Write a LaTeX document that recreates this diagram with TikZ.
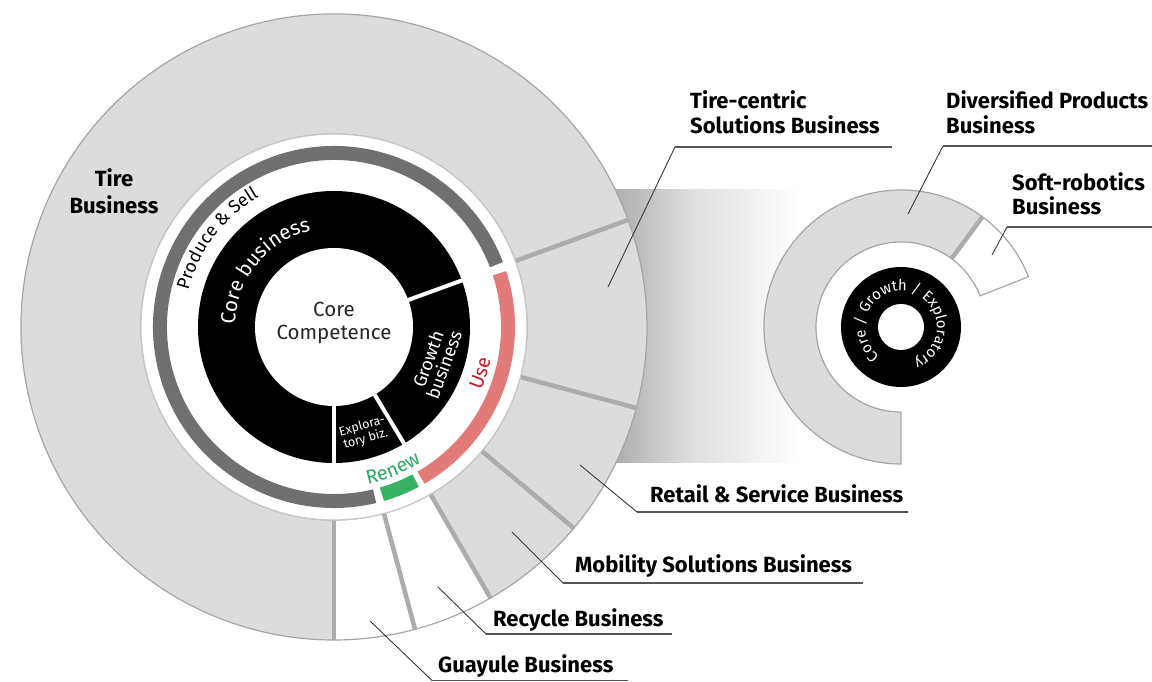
\documentclass[tikz,border=0pt]{standalone}
\usepackage{fontspec}
\setmainfont{Fira Sans}
\usetikzlibrary{decorations.text}
\definecolor{ringgray}{RGB}{220,220,220}
\definecolor{edgegray}{RGB}{165,165,165}
\definecolor{sepgray}{RGB}{172,172,172}
\definecolor{psgray}{RGB}{112,112,112}
\definecolor{usepink}{RGB}{226,122,122}
\definecolor{usered}{RGB}{205,25,35}
\definecolor{renewgreen}{RGB}{55,178,100}
\definecolor{renewtext}{RGB}{40,170,100}
\definecolor{leadergray}{RGB}{55,55,55}
\definecolor{linegray}{RGB}{85,85,85}
\newcommand\annsector[6]{\path[#6] ([shift={(#4:#3pt)}]#1) arc[start angle=#4,end angle=#5,radius=#3pt] -- ([shift={(#5:#2pt)}]#1) arc[start angle=#5,end angle=#4,radius=#2pt] -- cycle;}
\begin{document}
\begin{tikzpicture}[x=1pt,y=1pt,
  seg/.style={fill=ringgray, draw=edgegray, line width=1.2pt},
  wseg/.style={fill=white, draw=edgegray, line width=1.2pt},
  sepline/.style={draw=sepgray, line width=4.5pt},
  lab/.style={font=\fontsize{22}{26}\selectfont\bfseries, anchor=base west, inner sep=0pt, text=black},
  leader/.style={draw=leadergray, line width=0.9pt},
  uline/.style={draw=linegray, line width=1.4pt},
]
\useasboundingbox (0,0) rectangle (1152,682);
\coordinate (C) at (334,355);
\coordinate (S) at (901,355);
% gradient band
\shade[left color=black!32, right color=black!13] (615,219) rectangle (690,492);
\shade[left color=black!13, right color=white] (690,219) rectangle (800,492);
% main outer ring
\annsector{C}{193}{313}{20}{270}{seg}
\annsector{C}{193}{313}{-15}{20}{seg}
\annsector{C}{193}{313}{-40}{-15}{seg}
\annsector{C}{193}{313}{-60}{-40}{seg}
\annsector{C}{193}{313}{-75}{-60}{wseg}
\annsector{C}{193}{313}{-90}{-75}{wseg}
\foreach \a in {20,-15,-40,-60,-75,-90}
  \draw[sepline] ([shift={(\a:193pt)}]C) -- ([shift={(\a:313pt)}]C);
% white disk
\fill[white, draw=black!22, line width=1.2pt] (C) circle[radius=193pt];
% process arcs
\draw[psgray, line width=14pt] ([shift={(21:174pt)}]C) arc[start angle=21, end angle=283.5, radius=174pt];
\draw[renewgreen, line width=14pt] ([shift={(286:174pt)}]C) arc[start angle=286, end angle=298, radius=174pt];
\draw[usepink, line width=14pt] ([shift={(300:174pt)}]C) arc[start angle=300, end angle=378, radius=174pt];
% black ring
\fill[black] (C) circle[radius=136pt];
\fill[white] (C) circle[radius=79pt];
\foreach \a in {20,-59,-90}
  \draw[white, line width=4pt] ([shift={(\a:76pt)}]C) -- ([shift={(\a:139pt)}]C);
% texts inside
\node (cc) at (334,359) [align=center, font=\fontsize{20.5}{23}\selectfont, text=black!85] {Core\\Competence};
\path[decorate, decoration={text along path, text={|\fontsize{18}{18}\selectfont|Produce {\&} Sell}, text align=center}]
  ([shift={(183:150pt)}]C) arc[start angle=183, end angle=103, radius=150pt];
\path[decorate, decoration={text along path, text color=white, text={|\fontsize{20.5}{20}\selectfont|Core business}, text align=center}]
  ([shift={(190:99pt)}]C) arc[start angle=190, end angle=92, radius=99pt];
\path[decorate, decoration={text along path, text color=usered, text={|\fontsize{19.5}{19}\selectfont|Use}, text align=center}]
  ([shift={(-47.5:160pt)}]C) arc[start angle=-47.5, end angle=12.5, radius=160pt];
\path[decorate, decoration={text along path, text color=renewtext, text={|\fontsize{19.5}{19}\selectfont|Renew}, text align=center}]
  ([shift={(-97.5:161pt)}]C) arc[start angle=-97.5, end angle=-37.5, radius=161pt];
\node (gb) at (436,320) [rotate=70, align=center, text=white, font=\fontsize{18}{17}\selectfont] {Growth\\business};
\node (eb) at (364,249) [rotate=16, align=center, text=white, font=\fontsize{12.5}{13}\selectfont, inner sep=1pt] {Explora-\\tory biz.};
% small circle
\annsector{S}{85}{137}{53.5}{270}{seg}
\annsector{S}{85}{137}{21.5}{53.5}{wseg}
\draw[sepline] ([shift={(53.5:85pt)}]S) -- ([shift={(53.5:137pt)}]S);
\fill[black] (S) circle[radius=60pt];
\fill[white] (S) circle[radius=23pt];
\path[decorate, decoration={text along path, text color=white, text={|\fontsize{15}{15}\selectfont|Core / Growth / Exploratory}, text align=center}]
  ([shift={(262:36pt)}]S) arc[start angle=262, end angle=-98, radius=36pt];
% labels
\node (tire) at (114,491) [align=center, font=\fontsize{22}{27}\selectfont\bfseries] {Tire\\Business};
\node[lab] (tcs1) at (690,573) {Tire-centric};
\node[lab] (tcs2) at (690,548) {Solutions Business};
\node[lab] (dpb1) at (946,573) {Diversified Products};
\node[lab] (dpb2) at (946,548) {Business};
\node[lab] (srb1) at (1012,491) {Soft-robotics};
\node[lab] (srb2) at (1012,467) {Business};
\node[lab] (rsb) at (650,179) {Retail \& Service Business};
\node[lab] (msb) at (575,109) {Mobility Solutions Business};
\node[lab] (rcb) at (493,55) {Recycle Business};
\node[lab] (gyb) at (438,9) {Guayule Business};
% leader ends and underlines
\coordinate (tcsP) at (608,395); \coordinate (tcsA) at (675,535); \coordinate (tcsB) at (892,535);
\coordinate (dpbP) at (908,468); \coordinate (dpbA) at (943,536); \coordinate (dpbB) at (1152,536);
\coordinate (srbP) at (992,427); \coordinate (srbA) at (1007,455); \coordinate (srbB) at (1152,455);
\coordinate (rsbP) at (580,217); \coordinate (rsbA) at (637,170); \coordinate (rsbB) at (908,170);
\coordinate (msbP) at (512,150); \coordinate (msbA) at (563,99); \coordinate (msbB) at (863,99);
\coordinate (rcbP) at (438,95); \coordinate (rcbA) at (486,48); \coordinate (rcbB) at (672,48);
\coordinate (gybP) at (370,61); \coordinate (gybA) at (432,1.5); \coordinate (gybB) at (628,1.5);
\foreach \n in {tcs,dpb,srb,rsb,msb,rcb,gyb}{
  \draw[leader] (\n P) -- (\n A);
  \draw[uline] (\n A) -- (\n B);
}
\end{tikzpicture}
\end{document}
